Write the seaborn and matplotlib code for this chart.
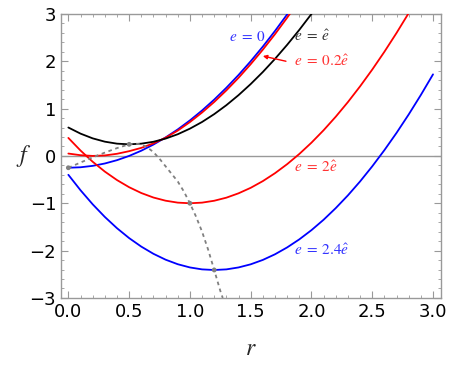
import numpy as np
import matplotlib
matplotlib.use("Agg")
import matplotlib.pyplot as plt
from matplotlib.ticker import MultipleLocator
import seaborn as sns

# ── values ────────────────────────────────────────────────
r_e0 = [0.0, 0.1, 0.2, 0.3, 0.4, 0.5, 0.6, 0.7, 0.8, 0.9,
        1.0, 1.1, 1.2, 1.3, 1.4, 1.5, 1.6, 1.7, 1.8, 1.9]
f_e0 = [-0.25, -0.24, -0.21, -0.16, -0.09, 0.00, 0.11, 0.24, 0.39, 0.56,
        0.75, 0.96, 1.19, 1.44, 1.71, 2.00, 2.31, 2.64, 2.99, 3.36]

r_e02 = [0.0, 0.1, 0.2, 0.3, 0.4, 0.5, 0.6, 0.7, 0.8, 0.9,
         1.0, 1.1, 1.2, 1.3, 1.4, 1.5, 1.6, 1.7, 1.8, 1.9]
f_e02 = [0.05, 0.015, 0.0, 0.01, 0.045, 0.10, 0.17, 0.265, 0.385, 0.535,
         0.715, 0.917, 1.14, 1.385, 1.65, 1.938, 2.245, 2.572, 2.92, 3.288]

r_e1 = [0.0, 0.1, 0.2, 0.3, 0.4, 0.5, 0.6, 0.7, 0.8, 0.9, 1.0,
        1.1, 1.2, 1.3, 1.4, 1.5, 1.6, 1.7, 1.8, 1.9, 2.0, 2.1]
f_e1 = [0.600, 0.471, 0.371, 0.301, 0.259, 0.245, 0.259, 0.299, 0.366, 0.458, 0.576,
        0.717, 0.883, 1.072, 1.284, 1.518, 1.773, 2.050, 2.347, 2.663, 2.999, 3.353]

r_e2 = [0.0, 0.1, 0.2, 0.3, 0.4, 0.5, 0.6, 0.7, 0.8, 0.9,
        1.0, 1.1, 1.2, 1.3, 1.4, 1.5, 1.6, 1.7, 1.8, 1.9,
        2.0, 2.1, 2.2, 2.3, 2.4, 2.5, 2.6, 2.7, 2.8, 2.9]
f_e2 = [0.380, 0.114, -0.123, -0.331, -0.510, -0.661, -0.784, -0.879, -0.946, -0.987,
        -1.000, -0.987, -0.947, -0.882, -0.790, -0.674, -0.532, -0.365, -0.174, 0.041,
        0.280, 0.543, 0.829, 1.138, 1.470, 1.824, 2.200, 2.598, 3.018, 3.458]

r_e24 = [0.0, 0.1, 0.2, 0.3, 0.4, 0.5, 0.6, 0.7, 0.8, 0.9,
         1.0, 1.1, 1.2, 1.3, 1.4, 1.5, 1.6, 1.7, 1.8, 1.9,
         2.0, 2.1, 2.2, 2.3, 2.4, 2.5, 2.6, 2.7, 2.8, 2.9, 3.0]
f_e24 = [-0.399, -0.725, -1.022, -1.289, -1.527, -1.736, -1.916, -2.068, -2.192, -2.288,
         -2.356, -2.397, -2.410, -2.397, -2.356, -2.290, -2.197, -2.078, -1.933, -1.763,
         -1.568, -1.348, -1.102, -0.833, -0.539, -0.220, 0.122, 0.487, 0.876, 1.288, 1.723]

# locus of the minima (dashed) and the marked minima
r_locus = [0.0, 0.1, 0.2, 0.3, 0.4, 0.5, 0.55, 0.6, 0.65, 0.7, 0.75,
           0.8, 0.85, 0.9, 0.95, 1.0, 1.05, 1.1, 1.15, 1.2, 1.25, 1.27]
f_locus = [-0.25, -0.14, -0.03, 0.07, 0.165, 0.245, 0.26, 0.245, 0.18, 0.08, -0.06,
           -0.22, -0.38, -0.54, -0.75, -1.0, -1.28, -1.6, -1.98, -2.41, -2.85, -3.0]
r_min = [0.0, 0.5, 1.0, 1.2]
f_min = [-0.25, 0.245, -1.0, -2.41]

BLUE, RED, BLACK, GRAY = "#0000ff", "#ff0000", "#000000", "#808080"

sns.set_style("ticks")
plt.rcParams["font.family"] = ["DejaVu Sans"]
plt.rcParams["mathtext.fontset"] = "stix"

fig, ax = plt.subplots(figsize=(4.49, 3.66), dpi=100)
fig.subplots_adjust(left=0.136, right=0.982, bottom=0.186, top=0.962)

ax.axhline(0, color="#999999", lw=1.0, zorder=1)

curves = [(r_e0, f_e0, BLUE), (r_e02, f_e02, RED), (r_e1, f_e1, BLACK),
          (r_e2, f_e2, RED), (r_e24, f_e24, BLUE)]
for rr, ff, col in curves:
    sns.lineplot(x=rr, y=ff, ax=ax, color=col, lw=1.3, sort=False,
                 estimator=None, zorder=3)

sns.lineplot(x=r_locus, y=f_locus, ax=ax, color=GRAY, lw=1.3, sort=False,
             estimator=None, zorder=4, linestyle=(0, (2, 2)))
sns.scatterplot(x=r_min, y=f_min, ax=ax, color=GRAY, s=12, edgecolor="none",
                zorder=5)

# curve labels
lab = dict(fontsize=11, va="center", ha="left")
ax.text(1.32, 2.52, r"$e\;=\;0$", color="#3333ff", **lab)
ax.text(1.86, 2.52, r"$e\;=\;\hat{e}$", color="#333333", **lab)
ax.text(1.86, 2.00, r"$e\;=\;0.2\hat{e}$", color="#ff3333", **lab)
ax.text(1.855, -0.23, r"$e\;=\;2\hat{e}$", color="#ff3333", **lab)
ax.text(1.855, -2.00, r"$e\;=\;2.4\hat{e}$", color="#3333ff", **lab)
ax.annotate("", xy=(1.60, 2.11), xytext=(1.79, 2.0),
            arrowprops=dict(arrowstyle="-|>", color=RED, lw=1.0,
                            mutation_scale=6, shrinkA=0, shrinkB=0))

ax.set_xlim(-0.06, 3.065)
ax.set_ylim(-3, 3)
ax.xaxis.set_minor_locator(MultipleLocator(0.1))
ax.yaxis.set_minor_locator(MultipleLocator(0.2))
ax.set_xticks([0, 0.5, 1.0, 1.5, 2.0, 2.5, 3.0])
ax.set_xticklabels(["0.0", "0.5", "1.0", "1.5", "2.0", "2.5", "3.0"])
ax.set_yticks([-3, -2, -1, 0, 1, 2, 3])
ax.set_yticklabels(["\u22123", "\u22122", "\u22121", "0", "1", "2", "3"])
ax.tick_params(which="both", direction="in", top=True, right=True,
               colors="#999999", labelcolor="black", labelsize=13)
ax.tick_params(which="major", length=5, width=0.8)
ax.tick_params(which="minor", length=2.5, width=0.6)
for sp in ax.spines.values():
    sp.set_color("#999999")
    sp.set_linewidth(1.0)

ax.set_xlabel(r"$r$", fontsize=17, labelpad=11)
ax.set_ylabel(r"$f$", fontsize=17, rotation=0, labelpad=4, va="center")

fig.savefig("out.png", dpi=100)
